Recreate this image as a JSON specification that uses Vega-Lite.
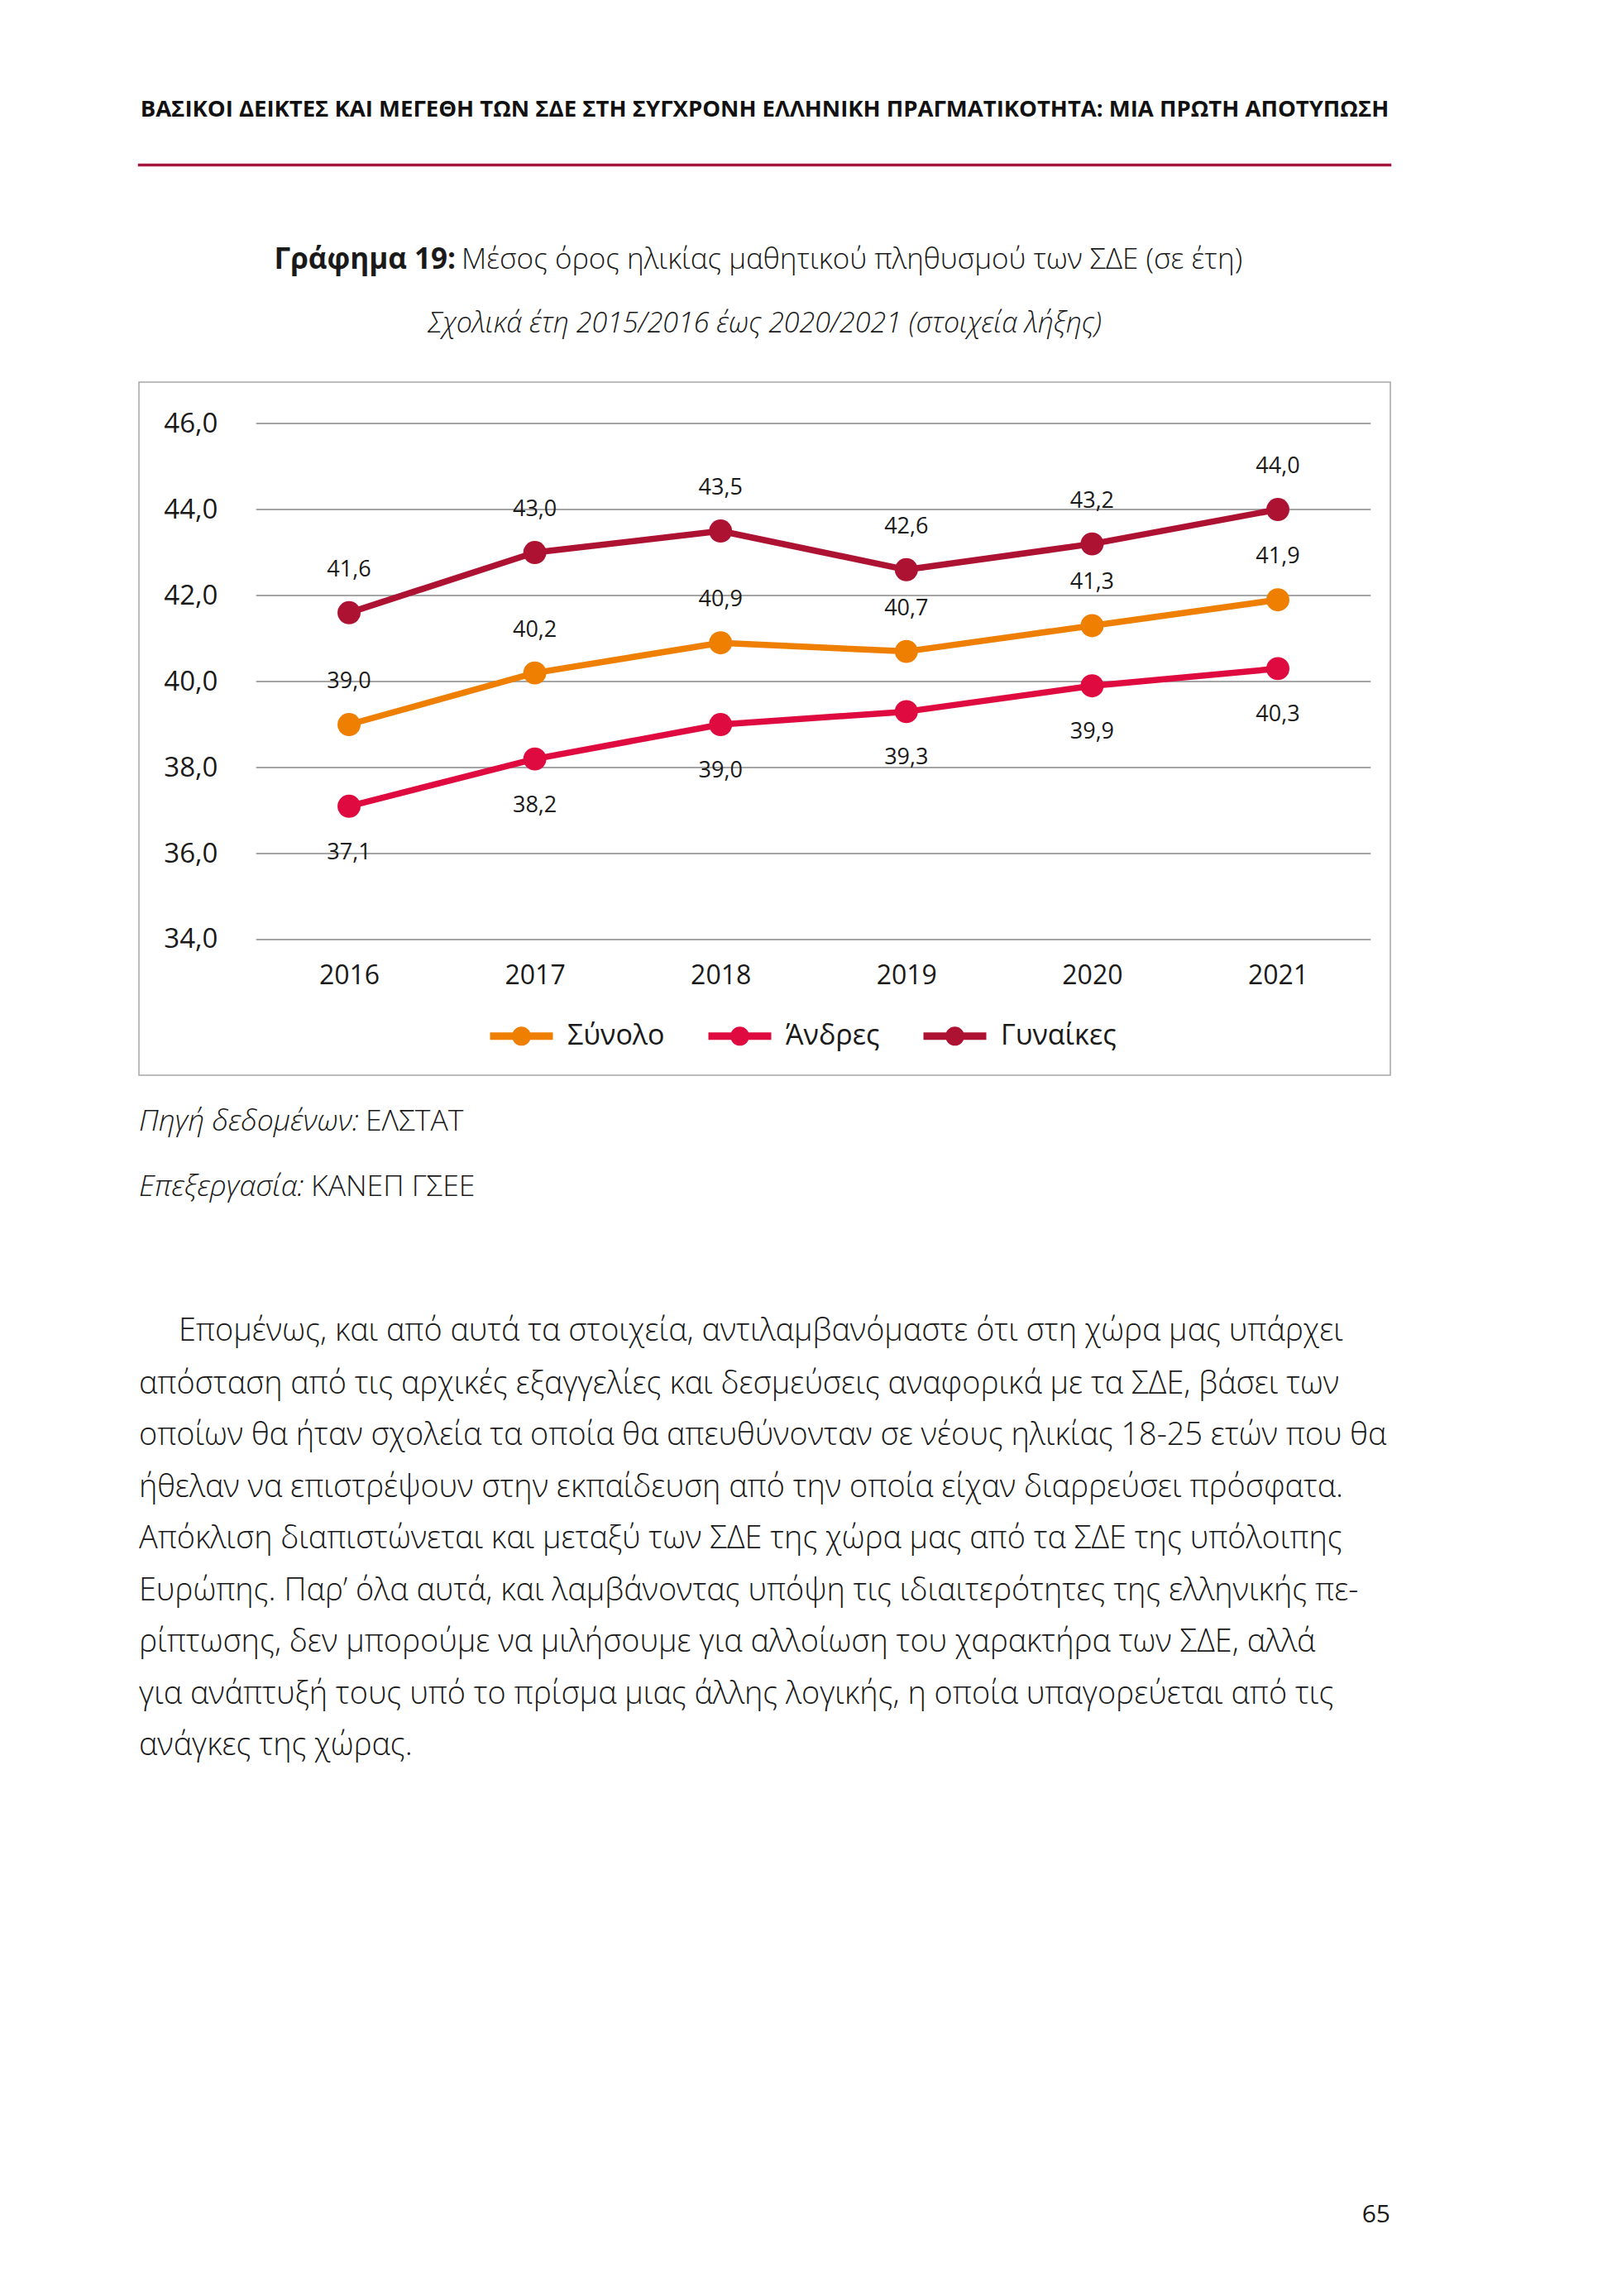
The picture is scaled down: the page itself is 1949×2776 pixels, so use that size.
{
  "$schema": "https://vega.github.io/schema/vega-lite/v6.json",
  "background": "white",
  "padding": {"left": 166, "top": 117, "right": 0, "bottom": 0},
  "config": {
    "view": {"stroke": null},
    "font": "Open Sans",
    "locale": {"number": {"decimal": ",", "thousands": ".", "grouping": [3], "currency": ["", " €"]}},
    "title": {"baseline": "top", "color": "#1a1a1a", "font": "Open Sans", "limit": 3000, "frame": "group"}
  },
  "datasets": {
    "ages": [
      {"year": 2016, "series": "Σύνολο", "value": 39.0},
      {"year": 2017, "series": "Σύνολο", "value": 40.2},
      {"year": 2018, "series": "Σύνολο", "value": 40.9},
      {"year": 2019, "series": "Σύνολο", "value": 40.7},
      {"year": 2020, "series": "Σύνολο", "value": 41.3},
      {"year": 2021, "series": "Σύνολο", "value": 41.9},
      {"year": 2016, "series": "Άνδρες", "value": 37.1},
      {"year": 2017, "series": "Άνδρες", "value": 38.2},
      {"year": 2018, "series": "Άνδρες", "value": 39.0},
      {"year": 2019, "series": "Άνδρες", "value": 39.3},
      {"year": 2020, "series": "Άνδρες", "value": 39.9},
      {"year": 2021, "series": "Άνδρες", "value": 40.3},
      {"year": 2016, "series": "Γυναίκες", "value": 41.6},
      {"year": 2017, "series": "Γυναίκες", "value": 43.0},
      {"year": 2018, "series": "Γυναίκες", "value": 43.5},
      {"year": 2019, "series": "Γυναίκες", "value": 42.6},
      {"year": 2020, "series": "Γυναίκες", "value": 43.2},
      {"year": 2021, "series": "Γυναίκες", "value": 44.0}
    ],
    "ticks": [{"tick": 34}, {"tick": 36}, {"tick": 38}, {"tick": 40}, {"tick": 42}, {"tick": 44}, {"tick": 46}]
  },
  "spacing": 95,
  "vconcat": [
    {
      "width": 1513,
      "height": 1,
      "view": {"stroke": "#A3173F", "strokeWidth": 2.5},
      "title": {"text": "ΒΑΣΙΚΟΙ ΔΕΙΚΤΕΣ ΚΑΙ ΜΕΓΕΘΗ ΤΩΝ ΣΔΕ ΣΤΗ ΣΥΓΧΡΟΝΗ ΕΛΛΗΝΙΚΗ ΠΡΑΓΜΑΤΙΚΟΤΗΤΑ: ΜΙΑ ΠΡΩΤΗ ΑΠΟΤΥΠΩΣΗ", "anchor": "middle", "offset": 53, "fontSize": 27.5, "fontWeight": "bold", "color": "#111111", "limit": 1513},
      "data": {"values": []},
      "mark": "text"
    },
    {
      "spacing": 37,
      "vconcat": [
        {
          "spacing": 0,
          "vconcat": [
            {
              "spacing": 7,
              "hconcat": [
                {
                  "width": 383,
                  "height": 42,
                  "title": {"text": "Γράφημα 19:", "anchor": "end", "offset": 0, "fontSize": 35, "fontWeight": "bold"},
                  "data": {"values": []},
                  "mark": "text"
                },
                {
                  "width": 1123,
                  "height": 42,
                  "title": {"text": "Μέσος όρος ηλικίας μαθητικού πληθυσμού των ΣΔΕ (σε έτη)", "anchor": "start", "offset": 0, "fontSize": 35, "fontWeight": 300},
                  "data": {"values": []},
                  "mark": "text"
                }
              ]
            },
            {
              "width": 1513,
              "height": 838,
              "view": {"stroke": "#A6A6A6", "strokeWidth": 1.5},
              "title": {"text": "Σχολικά έτη 2015/2016 έως 2020/2021 (στοιχεία λήξης)", "anchor": "middle", "offset": 53, "fontSize": 34, "fontStyle": "italic", "fontWeight": 300},
              "layer": [
                {
                  "data": {"name": "ticks"},
                  "mark": {"type": "rule", "color": "#A6A6A6", "strokeWidth": 2},
                  "encoding": {
                    "x": {"datum": 2015.5, "type": "quantitative", "scale": {"domain": [2014.869, 2021.6055], "nice": false, "zero": false},
                      "axis": {"orient": "bottom", "values": [2016, 2017, 2018, 2019, 2020, 2021], "format": "d", "title": null, "domain": false, "ticks": false, "tickSize": 0, "grid": false, "labelPadding": -111, "labelBaseline": "alphabetic", "labelFontSize": 32, "labelColor": "#1a1a1a", "labelFlush": false, "labelOverlap": false}},
                    "x2": {"datum": 2021.5},
                    "y": {"field": "tick", "type": "quantitative", "scale": {"domain": [30.846, 46.962], "nice": false, "zero": false},
                      "axis": {"orient": "left", "values": [34, 36, 38, 40, 42, 44, 46], "format": ".1f", "title": null, "domain": false, "ticks": false, "tickSize": 0, "grid": false, "labelPadding": -95, "labelFontSize": 33, "labelColor": "#1a1a1a", "labelFlush": false, "labelOverlap": false}}
                  }
                },
                {
                  "data": {"name": "ages"},
                  "mark": {"type": "line", "strokeWidth": 7.5, "strokeJoin": "round", "strokeCap": "round"},
                  "encoding": {
                    "x": {"field": "year", "type": "quantitative", "scale": {"domain": [2014.869, 2021.6055], "nice": false, "zero": false},
                      "axis": {"orient": "bottom", "values": [2016, 2017, 2018, 2019, 2020, 2021], "format": "d", "title": null, "domain": false, "ticks": false, "tickSize": 0, "grid": false, "labelPadding": -111, "labelBaseline": "alphabetic", "labelFontSize": 32, "labelColor": "#1a1a1a", "labelFlush": false, "labelOverlap": false}},
                    "y": {"field": "value", "type": "quantitative", "scale": {"domain": [30.846, 46.962], "nice": false, "zero": false},
                      "axis": {"orient": "left", "values": [34, 36, 38, 40, 42, 44, 46], "format": ".1f", "title": null, "domain": false, "ticks": false, "tickSize": 0, "grid": false, "labelPadding": -95, "labelFontSize": 33, "labelColor": "#1a1a1a", "labelFlush": false, "labelOverlap": false}},
                    "color": {"field": "series", "type": "nominal",
                      "scale": {"domain": ["Σύνολο", "Άνδρες", "Γυναίκες"], "range": ["#EE7F00", "#DF0A3F", "#AE1232"]},
                      "legend": {"title": null, "orient": "none", "legendX": 420, "legendY": 1011, "direction": "horizontal",
                        "symbolType": "M-1,0H1M0.184,0A0.184,0.184,0,1,1,-0.184,0A0.184,0.184,0,1,1,0.184,0M0.06,0A0.06,0.06,0,1,1,-0.06,0A0.06,0.06,0,1,1,0.06,0",
                        "symbolSize": 5776, "symbolStrokeWidth": 9, "symbolOpacity": 1, "labelFontSize": 34, "labelColor": "#1a1a1a", "labelOffset": 13, "columnPadding": 34, "padding": 0, "labelLimit": 500}}
                  }
                },
                {
                  "data": {"name": "ages"},
                  "mark": {"type": "circle", "size": 780, "opacity": 1},
                  "encoding": {
                    "x": {"field": "year", "type": "quantitative", "scale": {"domain": [2014.869, 2021.6055], "nice": false, "zero": false},
                      "axis": {"orient": "bottom", "values": [2016, 2017, 2018, 2019, 2020, 2021], "format": "d", "title": null, "domain": false, "ticks": false, "tickSize": 0, "grid": false, "labelPadding": -111, "labelBaseline": "alphabetic", "labelFontSize": 32, "labelColor": "#1a1a1a", "labelFlush": false, "labelOverlap": false}},
                    "y": {"field": "value", "type": "quantitative", "scale": {"domain": [30.846, 46.962], "nice": false, "zero": false},
                      "axis": {"orient": "left", "values": [34, 36, 38, 40, 42, 44, 46], "format": ".1f", "title": null, "domain": false, "ticks": false, "tickSize": 0, "grid": false, "labelPadding": -95, "labelFontSize": 33, "labelColor": "#1a1a1a", "labelFlush": false, "labelOverlap": false}},
                    "color": {"field": "series", "type": "nominal",
                      "scale": {"domain": ["Σύνολο", "Άνδρες", "Γυναίκες"], "range": ["#EE7F00", "#DF0A3F", "#AE1232"]},
                      "legend": {"title": null, "orient": "none", "legendX": 420, "legendY": 1011, "direction": "horizontal",
                        "symbolType": "M-1,0H1M0.184,0A0.184,0.184,0,1,1,-0.184,0A0.184,0.184,0,1,1,0.184,0M0.06,0A0.06,0.06,0,1,1,-0.06,0A0.06,0.06,0,1,1,0.06,0",
                        "symbolSize": 5776, "symbolStrokeWidth": 9, "symbolOpacity": 1, "labelFontSize": 34, "labelColor": "#1a1a1a", "labelOffset": 13, "columnPadding": 34, "padding": 0, "labelLimit": 500}}
                  }
                },
                {
                  "data": {"name": "ages"},
                  "transform": [{"filter": "datum.series !== 'Άνδρες'"}],
                  "mark": {"type": "text", "dy": -52, "fontSize": 27, "color": "#1a1a1a", "baseline": "middle"},
                  "encoding": {
                    "x": {"field": "year", "type": "quantitative", "scale": {"domain": [2014.869, 2021.6055], "nice": false, "zero": false},
                      "axis": {"orient": "bottom", "values": [2016, 2017, 2018, 2019, 2020, 2021], "format": "d", "title": null, "domain": false, "ticks": false, "tickSize": 0, "grid": false, "labelPadding": -111, "labelBaseline": "alphabetic", "labelFontSize": 32, "labelColor": "#1a1a1a", "labelFlush": false, "labelOverlap": false}},
                    "y": {"field": "value", "type": "quantitative", "scale": {"domain": [30.846, 46.962], "nice": false, "zero": false},
                      "axis": {"orient": "left", "values": [34, 36, 38, 40, 42, 44, 46], "format": ".1f", "title": null, "domain": false, "ticks": false, "tickSize": 0, "grid": false, "labelPadding": -95, "labelFontSize": 33, "labelColor": "#1a1a1a", "labelFlush": false, "labelOverlap": false}},
                    "text": {"field": "value", "type": "quantitative", "format": ".1f"}
                  }
                },
                {
                  "data": {"name": "ages"},
                  "transform": [{"filter": "datum.series === 'Άνδρες'"}],
                  "mark": {"type": "text", "dy": 56, "fontSize": 27, "color": "#1a1a1a", "baseline": "middle"},
                  "encoding": {
                    "x": {"field": "year", "type": "quantitative", "scale": {"domain": [2014.869, 2021.6055], "nice": false, "zero": false},
                      "axis": {"orient": "bottom", "values": [2016, 2017, 2018, 2019, 2020, 2021], "format": "d", "title": null, "domain": false, "ticks": false, "tickSize": 0, "grid": false, "labelPadding": -111, "labelBaseline": "alphabetic", "labelFontSize": 32, "labelColor": "#1a1a1a", "labelFlush": false, "labelOverlap": false}},
                    "y": {"field": "value", "type": "quantitative", "scale": {"domain": [30.846, 46.962], "nice": false, "zero": false},
                      "axis": {"orient": "left", "values": [34, 36, 38, 40, 42, 44, 46], "format": ".1f", "title": null, "domain": false, "ticks": false, "tickSize": 0, "grid": false, "labelPadding": -95, "labelFontSize": 33, "labelColor": "#1a1a1a", "labelFlush": false, "labelOverlap": false}},
                    "text": {"field": "value", "type": "quantitative", "format": ".1f"}
                  }
                }
              ]
            }
          ]
        },
        {
          "spacing": 0,
          "vconcat": [
            {
              "spacing": 8,
              "hconcat": [
                {
                  "width": 1,
                  "height": 42.5,
                  "title": {"text": "Πηγή δεδομένων:", "anchor": "start", "offset": 0, "fontSize": 35.5, "fontStyle": "italic", "fontWeight": 300},
                  "data": {"values": []},
                  "mark": "text"
                },
                {
                  "width": 600,
                  "height": 42.5,
                  "title": {"text": "ΕΛΣΤΑΤ", "anchor": "start", "offset": 0, "fontSize": 35.5, "fontWeight": 300},
                  "data": {"values": []},
                  "mark": "text"
                }
              ]
            },
            {
              "spacing": 8,
              "hconcat": [
                {
                  "width": 1,
                  "height": 137.5,
                  "title": {"text": "Επεξεργασία:", "anchor": "start", "offset": 0, "fontSize": 35.5, "fontStyle": "italic", "fontWeight": 300},
                  "data": {"values": []},
                  "mark": "text"
                },
                {
                  "width": 600,
                  "height": 137.5,
                  "title": {"text": "ΚΑΝΕΠ ΓΣΕΕ", "anchor": "start", "offset": 0, "fontSize": 35.5, "fontWeight": 300},
                  "data": {"values": []},
                  "mark": "text"
                }
              ]
            },
            {
              "spacing": 0,
              "hconcat": [
                {
                  "width": 48,
                  "height": 24.7,
                  "data": {"values": []},
                  "mark": "text"
                },
                {
                  "width": 1465,
                  "height": 24.7,
                  "title": {"text": "Επομένως, και από αυτά τα στοιχεία, αντιλαμβανόμαστε ότι στη χώρα μας υπάρχει", "anchor": "start", "offset": 0, "fontSize": 37.8, "fontWeight": 300},
                  "data": {"values": []},
                  "mark": "text"
                }
              ]
            },
            {
              "width": 1513,
              "height": 532.7,
              "title": {
                "text": [
                  "απόσταση από τις αρχικές εξαγγελίες και δεσμεύσεις αναφορικά με τα ΣΔΕ, βάσει των",
                  "οποίων θα ήταν σχολεία τα οποία θα απευθύνονταν σε νέους ηλικίας 18-25 ετών που θα",
                  "ήθελαν να επιστρέψουν στην εκπαίδευση από την οποία είχαν διαρρεύσει πρόσφατα.",
                  "Απόκλιση διαπιστώνεται και μεταξύ των ΣΔΕ της χώρα μας από τα ΣΔΕ της υπόλοιπης",
                  "Ευρώπης. Παρ’ όλα αυτά, και λαμβάνοντας υπόψη τις ιδιαιτερότητες της ελληνικής πε-",
                  "ρίπτωσης, δεν μπορούμε να μιλήσουμε για αλλοίωση του χαρακτήρα των ΣΔΕ, αλλά",
                  "για ανάπτυξή τους υπό το πρίσμα μιας άλλης λογικής, η οποία υπαγορεύεται από τις",
                  "ανάγκες της χώρας."
                ],
                "anchor": "start", "offset": 0, "fontSize": 37.8, "fontWeight": 300, "lineHeight": 62.5
              },
              "data": {"values": []},
              "mark": "text"
            },
            {
              "width": 1513,
              "height": 1,
              "title": {"text": "65", "anchor": "end", "offset": 0, "fontSize": 30, "fontWeight": "normal"},
              "data": {"values": []},
              "mark": "text"
            }
          ]
        }
      ]
    }
  ]
}
